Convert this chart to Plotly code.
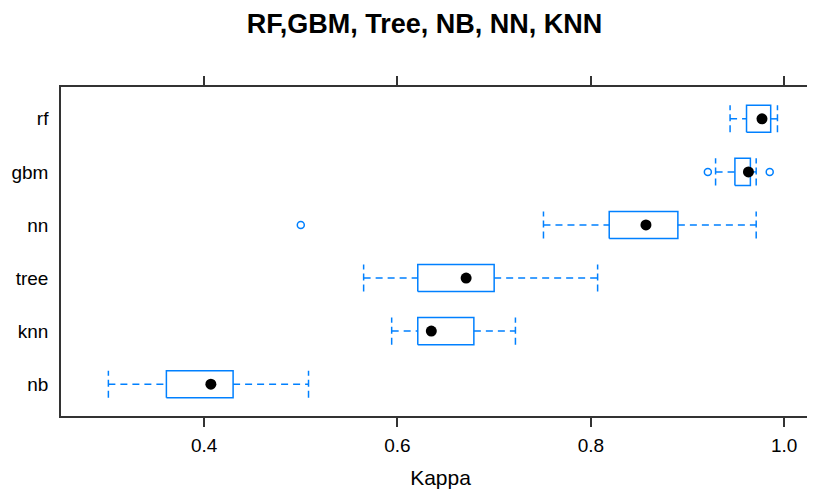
import plotly.graph_objects as go

# Models listed bottom to top
models = ["nb", "knn", "tree", "nn", "gbm", "rf"]
lower_whisker = [0.301, 0.594, 0.565, 0.751, 0.929, 0.944]
q1 = [0.361, 0.621, 0.621, 0.819, 0.949, 0.961]
median = [0.407, 0.635, 0.671, 0.857, 0.963, 0.977]
q3 = [0.430, 0.679, 0.700, 0.890, 0.965, 0.986]
upper_whisker = [0.508, 0.722, 0.807, 0.971, 0.971, 0.993]
outlier_model = ["nn", "gbm", "gbm"]
outlier_value = [0.500, 0.921, 0.985]

x_ticks = [0.4, 0.6, 0.8, 1.0]
x_tick_labels = ["0.4", "0.6", "0.8", "1.0"]

BLUE = "#0080ff"
HALF = 0.255
FONT = "Liberation Sans, Arial, sans-serif"

pos = {m: i for i, m in enumerate(models)}

box_x, box_y = [], []
wh_x, wh_y = [], []
cap_x, cap_y = [], []
for i, m in enumerate(models):
    box_x += [q1[i], q3[i], q3[i], q1[i], q1[i], None]
    box_y += [i - HALF, i - HALF, i + HALF, i + HALF, i - HALF, None]
    wh_x += [lower_whisker[i], q1[i], None, q3[i], upper_whisker[i], None]
    wh_y += [i, i, None, i, i, None]
    cap_x += [lower_whisker[i], lower_whisker[i], None, upper_whisker[i], upper_whisker[i], None]
    cap_y += [i - HALF, i + HALF, None, i - HALF, i + HALF, None]

fig = go.Figure()
fig.add_trace(go.Scatter(x=wh_x, y=wh_y, mode="lines",
                         line=dict(color=BLUE, width=1.5, dash="7px,5px"),
                         hoverinfo="skip", showlegend=False))
fig.add_trace(go.Scatter(x=cap_x, y=cap_y, mode="lines",
                         line=dict(color=BLUE, width=1.5, dash="7px,4px"),
                         hoverinfo="skip", showlegend=False))
fig.add_trace(go.Scatter(x=box_x, y=box_y, mode="lines",
                         line=dict(color=BLUE, width=1.5),
                         hoverinfo="skip", showlegend=False))
fig.add_trace(go.Scatter(x=median, y=[pos[m] for m in models], mode="markers",
                         marker=dict(color="black", size=11, symbol="circle"),
                         showlegend=False))
fig.add_trace(go.Scatter(x=outlier_value, y=[pos[m] for m in outlier_model], mode="markers",
                         marker=dict(color=BLUE, size=7, symbol="circle-open",
                                     line=dict(width=1.5, color=BLUE)),
                         showlegend=False))

fig.update_layout(
    width=815, height=495,
    margin=dict(l=53, r=3, t=79, b=87),
    paper_bgcolor="white", plot_bgcolor="white",
    font=dict(family=FONT, color="black"),
    title=dict(text="<b>RF,GBM, Tree, NB, NN, KNN</b>",
               font=dict(size=27, family=FONT, color="black"),
               xref="container", x=0.511, xanchor="center",
               yref="container", y=1 - 16 / 495, yanchor="middle",
               automargin=False),
    xaxis=dict(range=[0.252, 1.037], tickvals=x_ticks, ticktext=x_tick_labels,
               ticks="outside", ticklen=9, tickwidth=1.5, tickcolor="#333333",
               showline=True, linecolor="#333333", linewidth=1.5, mirror="ticks",
               showgrid=False, zeroline=False, automargin=False,
               ticklabelstandoff=2,
               tickfont=dict(size=19, family=FONT, color="black"),
               title=dict(text="Kappa", font=dict(size=21, family=FONT, color="black"),
                          standoff=16)),
    yaxis=dict(range=[-0.6, 5.6], tickvals=list(range(len(models))), ticktext=models,
               ticks="", showline=True, linecolor="#333333", linewidth=1.5, mirror=True,
               showgrid=False, zeroline=False, ticklabelstandoff=7, automargin=False,
               tickfont=dict(size=19, family=FONT, color="black")),
)

fig.write_html("out.html")
